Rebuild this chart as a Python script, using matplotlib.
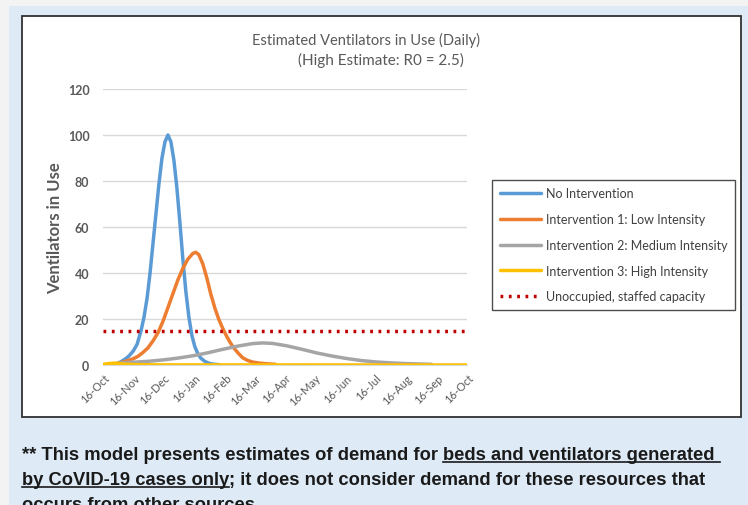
import matplotlib
matplotlib.use("Agg")
import matplotlib.pyplot as plt
import matplotlib.dates as mdates
from matplotlib.lines import Line2D
from matplotlib.patches import Rectangle
from matplotlib import font_manager
import pandas as pd

# ---- data (days counted from 16-Oct) ----
start = pd.Timestamp("2019-10-16")
end = pd.Timestamp("2020-10-16")

no_int_days = [10, 14, 18, 22, 26, 30, 34, 38, 41, 44, 47, 50, 53, 56, 59, 62, 65,
               68, 71, 74, 77, 80, 83, 86, 89, 92, 95, 98, 102, 106, 110, 117]
no_int_vals = [0, 0.6, 1.5, 2.6, 4.0, 6.0, 9.0, 15, 21, 29, 40, 53, 66, 79, 90, 97, 100,
               97, 89, 77, 62, 46, 32, 21, 13, 8, 5, 3, 1.6, 0.8, 0.4, 0.1]

low_days = [10, 15, 20, 25, 30, 35, 40, 45, 50, 55, 60, 65, 70, 75, 80, 85, 90, 93, 96,
            100, 104, 108, 112, 116, 120, 124, 128, 132, 136, 140, 145, 150, 157, 165, 173]
low_vals = [0, 0.8, 1.3, 2.0, 2.7, 3.8, 5.5, 7.5, 10.5, 14, 19, 25, 31, 37, 42, 46, 48.5, 49, 48,
            44, 38, 31, 25, 20, 16, 12.5, 9.5, 7, 5, 3.2, 2.0, 1.3, 0.8, 0.5, 0.3]

med_days = [10, 20, 30, 45, 60, 75, 90, 105, 120, 135, 150, 160, 170, 185, 200, 215,
            230, 245, 260, 275, 290, 305, 320, 330]
med_vals = [0.5, 1.0, 1.2, 1.6, 2.2, 3.0, 4.0, 5.3, 6.8, 8.2, 9.3, 9.6, 9.4, 8.3, 6.8, 5.2,
            3.9, 2.8, 1.9, 1.3, 0.9, 0.6, 0.4, 0.3]

high_days = [0, 5, 10, 15, 20, 30, 45, 60, 366]
high_vals = [0.3, 0.6, 0.8, 0.7, 0.4, 0.2, 0.1, 0.05, 0]

capacity = 15

labels = ["No Intervention", "Intervention 1: Low Intensity",
          "Intervention 2: Medium Intensity", "Intervention 3: High Intensity",
          "Unoccupied, staffed capacity"]
colors = ["#5B9BD5", "#ED7D31", "#A5A5A5", "#FFC000", "#C00000"]


def to_dates(days):
    return start + pd.to_timedelta(days, unit="D")


names = {f.name for f in font_manager.fontManager.ttflist}
chart_font = ["Lato", "DejaVu Sans"] if "Lato" in names else ["DejaVu Sans"]
note_font = "Liberation Sans Narrow" if "Liberation Sans Narrow" in names else "Liberation Sans"

W, H = 748, 506
fig = plt.figure(figsize=(W / 100, H / 100), dpi=100)
fig.patch.set_facecolor("#F3F3F3")


def fx(px):
    return px / W


def fy(py):
    return 1 - py / H


# blue panel and white chart box
fig.add_artist(Rectangle((fx(9), 0), 1, fy(7), transform=fig.transFigure,
                         facecolor="#DEEBF7", edgecolor="none", zorder=0))
fig.add_artist(Rectangle((fx(22), fy(418)), fx(741) - fx(22), fy(17) - fy(418),
                         transform=fig.transFigure, facecolor="white",
                         edgecolor="#303030", linewidth=1.3, zorder=0))

ax = fig.add_axes([fx(103.3), fy(366), fx(467.3) - fx(103.3), fy(90) - fy(366)])
ax.set_facecolor("none")

series = [(no_int_days, no_int_vals), (low_days, low_vals),
          (med_days, med_vals), (high_days, high_vals)]
for (d, v), c, lab in zip(series, colors, labels):
    ax.plot(to_dates(d), v, color=c, linewidth=2.5, label=lab, solid_capstyle="round")
ax.plot([start, end], [capacity, capacity], color=colors[4], linewidth=2.5,
        linestyle=(0, (0.8, 1.6)), label=labels[4])

ax.set_xlim(start, end)
ax.set_ylim(0, 120)
ax.set_yticks(range(0, 121, 20))
ax.xaxis.set_major_locator(mdates.MonthLocator(bymonthday=16))
ax.xaxis.set_major_formatter(mdates.DateFormatter("%d-%b"))
ax.grid(axis="y", color="#D9D9D9", linewidth=1)
ax.set_axisbelow(True)
for s in ["top", "right", "left"]:
    ax.spines[s].set_visible(False)
ax.spines["bottom"].set_color("#D9D9D9")
ax.tick_params(length=0)
for t in ax.get_yticklabels():
    t.set_fontfamily(chart_font)
    t.set_fontsize(9)
    t.set_fontweight("bold")
    t.set_color("#595959")
ax.tick_params(axis="y", pad=10)
for t in ax.get_xticklabels():
    t.set_fontfamily(chart_font)
    t.set_fontsize(8)
    t.set_color("#595959")
    t.set_rotation(45)
    t.set_ha("right")
    t.set_va("top")
    t.set_rotation_mode("anchor")
ax.tick_params(axis="x", pad=5)
ax.set_ylabel("Ventilators in Use", family=chart_font, fontsize=12,
              fontweight="bold", color="#595959", labelpad=3)

fig.text(fx(366), fy(40), "Estimated Ventilators in Use (Daily)", family=chart_font,
         fontsize=10.5, color="#595959", ha="center", va="center")
fig.text(fx(381), fy(60), "(High Estimate: R0 = 2.5)", family=chart_font,
         fontsize=11, color="#595959", ha="center", va="center")

leg = fig.legend(loc="upper left", bbox_to_anchor=(fx(492), fy(181)),
                 bbox_transform=fig.transFigure, borderaxespad=0,
                 prop={"family": chart_font, "size": 9}, labelcolor="#404040",
                 frameon=True, fancybox=False, edgecolor="#202020",
                 handlelength=3.3, handletextpad=0.4, labelspacing=1.1,
                 borderpad=0.6)
leg.get_frame().set_linewidth(1)

# footnote with underlined parts
renderer = fig.canvas.get_renderer()
note_kw = dict(family=note_font, fontsize=13.2, fontweight="bold", color="#1A1A1A",
               va="baseline", ha="left")
note_lines = [
    (460, [("** This model presents estimates of demand for ", False),
           ("beds and ventilators generated ", True)]),
    (485, [("by CoVID-19 cases only", True),
           ("; it does not consider demand for these resources that", False)]),
    (510, [("occurs from other sources.", False)]),
]
for base, parts in note_lines:
    x = fx(22)
    for txt, ul in parts:
        t = fig.text(x, fy(base), txt, **note_kw)
        bb = t.get_window_extent(renderer)
        if ul:
            fig.add_artist(Line2D([bb.x0 / W, bb.x1 / W], [fy(base + 3), fy(base + 3)],
                                  transform=fig.transFigure, color="#1A1A1A", linewidth=1.2))
        x = bb.x1 / W

fig.savefig("out.png", dpi=100, facecolor=fig.get_facecolor())
